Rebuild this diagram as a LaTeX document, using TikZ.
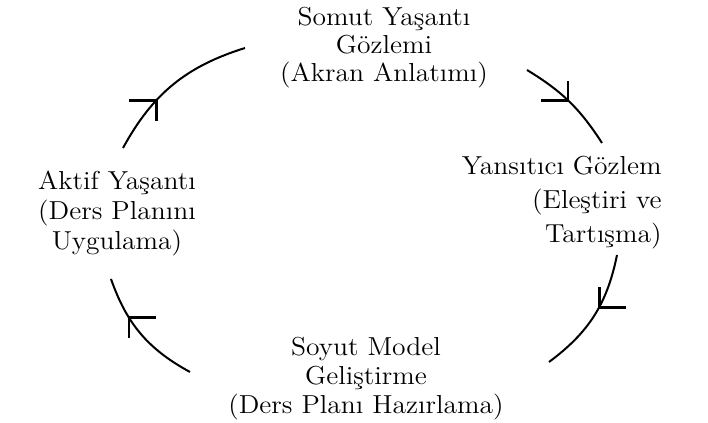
\documentclass[tikz,border=0pt]{standalone}
\usepackage{fontspec}
\newfontfamily\cyclefont{lmroman12-regular.otf}[FakeStretch=1.06]
\begin{document}
\begin{tikzpicture}[x=0.5pt,y=-0.5pt,
    phase/.style={align=center,inner sep=0pt,font=\cyclefont\fontsize{13}{14}\selectfont},
    ring/.style={line width=1pt},
    barb/.style={line width=1.4pt}]
    \useasboundingbox (0,0) rectangle (708,423);
    \node[phase] (somut) at (384,48) {Somut Yaşantı\\Gözlemi\\(Akran Anlatımı)};%ust
    \node[phase,align=right,anchor=east,font=\cyclefont\fontsize{13}{17}\selectfont] (yansitici) at (662,203) {Yansıtıcı Gözlem\\(Eleştiri ve\\Tartışma)};%sag
    \node[phase,font=\cyclefont\fontsize{13}{14.5}\selectfont] (soyut) at (366,379) {Soyut Model\\Geliştirme\\(Ders Planı Hazırlama)};%alt
    \node[phase,font=\cyclefont\fontsize{13}{15}\selectfont] (aktif) at (117,213) {Aktif Yaşantı\\(Ders Planını\\Uygulama)};%sol
    \coordinate (a1) at (123,148); \coordinate (b1) at (245,48);
    \coordinate (a2) at (527,70);  \coordinate (b2) at (602,143);
    \coordinate (a3) at (617,255); \coordinate (b3) at (549,362);
    \coordinate (a4) at (190,372); \coordinate (b4) at (111,279);
    \draw[ring] (a1) to[bend left=22] coordinate[pos=0.35] (m1) (b1);%aktif -> somut
    \draw[ring] (a2) to[bend left=13] coordinate[pos=0.48] (m2) (b2);%somut -> yansitici
    \draw[ring] (a3) to[bend left=21] coordinate[pos=0.42] (m3) (b3);%yansitici -> soyut
    \draw[ring] (a4) to[bend left=21] coordinate[pos=0.67] (m4) (b4);%soyut -> aktif
    \draw[barb] (m1) ++(-27,0) -- (m1) -- ++(0,21);
    \draw[barb] (m2) ++(-27,0) -- (m2) -- ++(0,-19);
    \draw[barb] (m3) ++(27,0) -- (m3) -- ++(0,-20);
    \draw[barb] (m4) ++(27,0) -- (m4) -- ++(0,20);
\end{tikzpicture}
\end{document}
